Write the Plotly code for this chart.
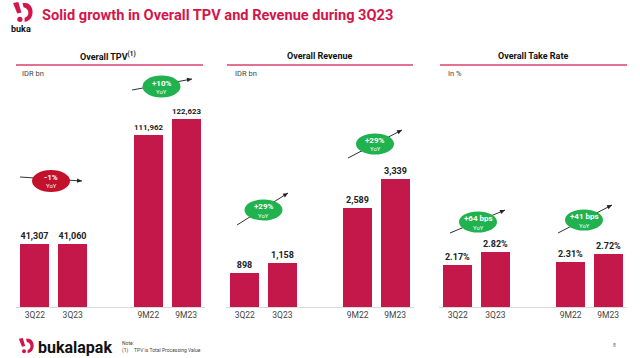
import math
import plotly.graph_objects as go

# ---------------- data ----------------
periods = ["3Q22", "3Q23", "9M22", "9M23"]
tpv_values = [41307, 41060, 111962, 122623]
revenue_values = [898, 1158, 2589, 3339]
take_rate_values = [2.17, 2.82, 2.31, 2.72]

panel_titles = ["Overall TPV<sup>(1)</sup>", "Overall Revenue", "Overall Take Rate"]
panel_units = ["IDR bn", "IDR bn", "In %"]
growth_labels = [("-1%", "YoY"), ("+10%", "YoY"), ("+29%", "YoY"), ("+29%", "YoY"),
                 ("+64 bps", "YoY"), ("+41 bps", "YoY")]

# ---------------- layout constants ----------------
W, H = 640, 358
BAR = "#C5184A"
RED = "#D2164A"
GREEN = "#1FB24E"
DARKRED = "#C3102B"
FONT = "Roboto"
slots = [0, 1, 3, 4]


def px(x):
    return x / W


def py(y):
    return 1 - y / H


def note(x, y, text, size, color, bold=False, xanchor="center"):
    annotations.append(dict(
        x=px(x), y=py(y), xref="paper", yref="paper", xanchor=xanchor,
        yanchor="middle", showarrow=False, text=f"<b>{text}</b>" if bold else text,
        font=dict(family=FONT, size=size, color=color)))


base_px, top_px = 307, 100
ydom = [py(base_px), py(top_px)]
xdoms = [[px(16), px(205)], [px(226), px(414)], [px(439), px(627)]]
yranges = [[0, 135015], [0, 5400], [0, 10.61]]

fig = go.Figure()
series = [tpv_values, revenue_values, take_rate_values]
templates = ["%{y:,}", "%{y:,}", "%{y:.2f}%"]
for i, vals in enumerate(series):
    xa = "x" if i == 0 else f"x{i+1}"
    ya = "y" if i == 0 else f"y{i+1}"
    fig.add_trace(go.Bar(
        x=slots, y=vals, xaxis=xa, yaxis=ya,
        marker=dict(color=BAR, line=dict(width=0)),
        width=0.77,
        texttemplate=templates[i], textposition="outside",
        textfont=dict(family=FONT, size=9, color="#222", weight="bold"),
        cliponaxis=False, showlegend=False, hoverinfo="skip",
    ))
    k = "" if i == 0 else str(i + 1)
    fig.layout[f"xaxis{k}"] = dict(
        domain=xdoms[i], range=[-0.5, 4.5], tickvals=slots, ticktext=periods,
        showgrid=False, zeroline=False, showline=True, linecolor="#D9D9D9",
        linewidth=1, ticks="", tickfont=dict(family=FONT, size=8.5, color="#444"),
        anchor=ya.replace("axis", ""), fixedrange=True)
    fig.layout[f"yaxis{k}"] = dict(
        domain=ydom, range=yranges[i], visible=False, showgrid=False,
        zeroline=False, anchor=xa.replace("axis", ""), fixedrange=True)

shapes = []
annotations = []

# title
note(40, 15, "Solid growth in Overall TPV and Revenue during 3Q23", 14.6, RED,
     bold=True, xanchor="left")

# panel headers
hdr_x = [108, 320, 533]
unit_x = [20, 233, 446]
line_x = [(16, 203), (227, 413), (440, 627)]
for i in range(3):
    note(hdr_x[i], 56, panel_titles[i], 9, "#111", bold=True)
    note(unit_x[i], 73, panel_units[i], 7.5, "#444", xanchor="left")
    shapes.append(dict(type="line", xref="paper", yref="paper",
                       x0=px(line_x[i][0]), x1=px(line_x[i][1]), y0=py(65), y1=py(65),
                       line=dict(color="#D8436A", width=1.5)))

# growth bubbles: (cx, cy, w, h, color, tail, head)
bubbles = [
    (51, 181, 38, 22, DARKRED, (20, 177), (82, 181)),
    (161.5, 86.5, 38, 22, GREEN, (132, 90), (192, 79)),
    (263.5, 210, 38, 21, GREEN, (237, 225), (288, 193)),
    (375, 144, 38, 21, GREEN, (348, 158), (402, 130)),
    (478, 222, 38, 21, GREEN, (450, 233), (505, 210)),
    (584, 220, 38, 21, GREEN, (558, 233), (612, 205)),
]
for (cx, cy, w, h, col, tail, head), (big, small) in zip(bubbles, growth_labels):
    shapes.append(dict(type="line", xref="paper", yref="paper",
                       x0=px(tail[0]), y0=py(tail[1]), x1=px(head[0]), y1=py(head[1]),
                       line=dict(color="#333", width=1)))
    dx, dy = head[0] - tail[0], head[1] - tail[1]
    L = math.hypot(dx, dy)
    ux, uy = dx / L, dy / L
    bx, by = head[0] - 5 * ux, head[1] - 5 * uy
    p1 = (bx - 2.2 * uy, by + 2.2 * ux)
    p2 = (bx + 2.2 * uy, by - 2.2 * ux)
    path = (f"M{px(head[0])},{py(head[1])} L{px(p1[0])},{py(p1[1])} "
            f"L{px(p2[0])},{py(p2[1])} Z")
    shapes.append(dict(type="path", xref="paper", yref="paper", path=path,
                       fillcolor="#222", line=dict(width=0)))
    shapes.append(dict(type="circle", xref="paper", yref="paper",
                       x0=px(cx - w / 2), x1=px(cx + w / 2), y0=py(cy + h / 2), y1=py(cy - h / 2),
                       fillcolor=col, line=dict(width=0)))
    note(cx, cy - 3.5, big, 8, "white", bold=True)
    note(cx, cy + 5, small, 6, "white")


def logo(x0, y0, s):
    """Approximate bukalapak icon in pixel coords, origin top-left, scale s."""
    def P(x, y):
        return f"{px(x0 + x * s)},{py(y0 + y * s)}"
    shapes.append(dict(type="path", xref="paper", yref="paper",
                       path=f"M{P(1,1)} L{P(6,0)} L{P(9,10)} L{P(5,11)} Z",
                       fillcolor=RED, line=dict(width=0)))
    shapes.append(dict(type="circle", xref="paper", yref="paper",
                       x0=px(x0 + 5 * s), x1=px(x0 + 10 * s),
                       y0=py(y0 + 19 * s), y1=py(y0 + 14 * s),
                       fillcolor=RED, line=dict(width=0)))
    shapes.append(dict(type="path", xref="paper", yref="paper",
                       path=(f"M{P(10,1)} L{P(13,1)} C{P(22,2)} {P(22,18)} {P(12,19)} "
                             f"L{P(12,15)} C{P(17,14)} {P(17,6)} {P(11,5)} Z"),
                       fillcolor=RED, line=dict(width=0)))


logo(12, 2, 1.05)
note(21, 29, "buka", 9, "#111", bold=True)

# footer
logo(18, 338, 0.8)
note(36, 347, "bukalapak", 16, "#111", bold=True, xanchor="left")
note(120, 343, "Note:", 5, "#444", xanchor="left")
note(120, 350, "(1)", 5, "#444", xanchor="left")
note(132, 350, "TPV is Total Processing Value", 5, "#444", xanchor="left")
note(614, 345, "8", 5, "#666")

fig.update_layout(
    width=W, height=H, margin=dict(l=0, r=0, t=0, b=0),
    paper_bgcolor="white", plot_bgcolor="white",
    shapes=shapes, annotations=annotations, bargap=0,
    font=dict(family=FONT),
)
fig.write_html("out.html", config={"displayModeBar": False},
               post_script="document.body.style.margin='0';document.body.style.padding='0';")
